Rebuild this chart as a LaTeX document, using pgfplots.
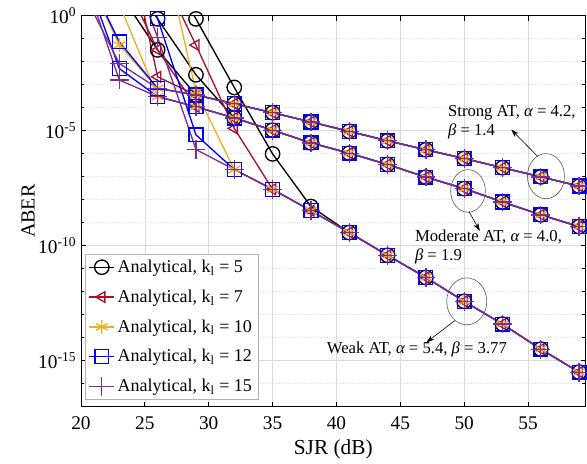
\documentclass[border=0pt]{standalone}
\usepackage{fontspec}
\setmainfont{Liberation Serif}
\usepackage{pgfplots}
\pgfplotsset{compat=1.18}
\usetikzlibrary{arrows.meta}
\definecolor{c5}{RGB}{0,0,0}
\definecolor{c7}{RGB}{162,20,47}
\definecolor{c10}{RGB}{237,177,32}
\definecolor{c12}{RGB}{0,0,255}
\definecolor{c15}{RGB}{126,47,142}
\pgfplotsset{
  k5/.style={c5, line width=1pt, mark=o, mark size=5.4pt, mark options={solid, line width=1pt}},
  k7/.style={c7, line width=1pt, mark=triangle, mark size=4.6pt, mark options={solid, rotate=90, line width=1pt}},
  k10/.style={c10, line width=1pt, mark=asterisk, mark size=5pt, mark options={solid, line width=1pt}},
  k12/.style={c12, line width=1pt, mark=square, mark size=5.2pt, mark options={solid, line width=1pt}},
  k15/.style={c15, line width=1pt, mark=+, mark size=7pt, mark options={solid, line width=1pt}},
  dat/.style={forget plot, mark indices={1,2,...,20}},
}
\begin{document}
\begin{tikzpicture}
\begin{axis}[
  scale only axis, width=378.4pt, height=293.25pt,
  xmin=20, xmax=59.5, ymode=log, ymin=1e-17, ymax=1,
  xtick={20,25,...,55},
  ytick={1e-15,1e-10,1e-5,1},
  yticklabels={10\textsuperscript{-15},10\textsuperscript{-10},10\textsuperscript{-5},10\textsuperscript{0}},
  minor ytick={1e-17,1e-16,1e-14,1e-13,1e-12,1e-11,1e-9,1e-8,1e-7,1e-6,1e-4,1e-3,1e-2,1e-1},
  xmajorgrids, ymajorgrids, yminorgrids,
  major grid style={gray!30, line width=0.5pt},
  minor grid style={gray!30, dotted, line width=0.5pt},
  axis line style={line width=0.6pt},
  major tick length=3.75pt, minor tick length=2.5pt,
  every tick/.style={black, line width=0.6pt},
  /pgf/number format/assume math mode=true,
  ticklabel style={font=\fontsize{14.5}{17}\selectfont},
  xticklabel style={yshift=-4pt},
  xlabel={SJR (dB)}, ylabel={ABER},
  x label style={font=\fontsize{16}{18}\selectfont, at={(axis description cs:0.5,-0.108)}, anchor=center},
  y label style={font=\fontsize{15}{18}\selectfont, at={(axis description cs:-0.105,0.5)}, anchor=center},
  legend style={at={(0.008,0.017)}, anchor=south west, draw=gray!60, fill=white,
    font=\fontsize{13.5}{15}\selectfont, row sep=7.5pt, inner sep=2.5pt},
  legend cell align=left,
  legend image code/.code={\draw[mark repeat=2,mark phase=2] plot coordinates {(0cm,0cm) (0.33cm,0cm) (0.66cm,0cm)};},
]
\addlegendimage{k5}\addlegendentry{Analytical, k\textsubscript{l} = 5}
\addlegendimage{k7}\addlegendentry{Analytical, k\textsubscript{l} = 7}
\addlegendimage{k10}\addlegendentry{Analytical, k\textsubscript{l} = 10}
\addlegendimage{k12}\addlegendentry{Analytical, k\textsubscript{l} = 12}
\addlegendimage{k15}\addlegendentry{Analytical, k\textsubscript{l} = 15}

% ---- k_l = 5
\addplot[k5,dat] table[row sep=\\, x=x, y expr=10^(\thisrow{l})] {x l\\ 23 1.0\\ 26 -1.49\\ 29 -3.45\\ 32 -3.83\\ 35 -4.22\\ 38 -4.62\\ 41 -5.03\\ 44 -5.44\\ 47 -5.83\\ 50 -6.21\\ 53 -6.61\\ 56 -7.01\\ 59 -7.41\\};
\addplot[k5,dat] table[row sep=\\, x=x, y expr=10^(\thisrow{l})] {x l\\ 23 2.5\\ 26 -0.14\\ 29 -2.57\\ 32 -4.45\\ 35 -4.98\\ 38 -5.53\\ 41 -5.98\\ 44 -6.47\\ 47 -7.02\\ 50 -7.52\\ 53 -8.10\\ 56 -8.66\\ 59 -9.17\\};
\addplot[k5,dat] table[row sep=\\, x=x, y expr=10^(\thisrow{l})] {x l\\ 26 2.8\\ 29 -0.14\\ 32 -3.12\\ 35 -6.01\\ 38 -8.30\\ 41 -9.43\\ 44 -10.42\\ 47 -11.38\\ 50 -12.42\\ 53 -13.41\\ 56 -14.50\\ 59 -15.50\\};
% ---- k_l = 7
\addplot[k7,dat] table[row sep=\\, x=x, y expr=10^(\thisrow{l})] {x l\\ 23 5.0\\ 26 -2.66\\ 29 -3.45\\ 32 -3.83\\ 35 -4.22\\ 38 -4.62\\ 41 -5.03\\ 44 -5.44\\ 47 -5.83\\ 50 -6.21\\ 53 -6.61\\ 56 -7.01\\ 59 -7.41\\};
\addplot[k7,dat] table[row sep=\\, x=x, y expr=10^(\thisrow{l})] {x l\\ 23 2.0\\ 26 -1.49\\ 29 -3.96\\ 32 -4.45\\ 35 -4.98\\ 38 -5.53\\ 41 -5.98\\ 44 -6.47\\ 47 -7.02\\ 50 -7.52\\ 53 -8.10\\ 56 -8.66\\ 59 -9.17\\};
\addplot[k7,dat] table[row sep=\\, x=x, y expr=10^(\thisrow{l})] {x l\\ 26 2.2\\ 29 -1.28\\ 32 -4.90\\ 35 -7.55\\ 38 -8.48\\ 41 -9.43\\ 44 -10.42\\ 47 -11.38\\ 50 -12.42\\ 53 -13.41\\ 56 -14.50\\ 59 -15.50\\};
% ---- k_l = 10
\addplot[k10,dat] table[row sep=\\, x=x, y expr=10^(\thisrow{l})] {x l\\ 20 2.3\\ 23 -1.28\\ 26 -3.16\\ 29 -3.45\\ 32 -3.83\\ 35 -4.22\\ 38 -4.62\\ 41 -5.03\\ 44 -5.44\\ 47 -5.83\\ 50 -6.21\\ 53 -6.61\\ 56 -7.01\\ 59 -7.41\\};
\addplot[k10,dat] table[row sep=\\, x=x, y expr=10^(\thisrow{l})] {x l\\ 23 0.5\\ 26 -3.52\\ 29 -3.96\\ 32 -4.45\\ 35 -4.98\\ 38 -5.53\\ 41 -5.98\\ 44 -6.47\\ 47 -7.02\\ 50 -7.52\\ 53 -8.10\\ 56 -8.66\\ 59 -9.17\\};
\addplot[k10,dat] table[row sep=\\, x=x, y expr=10^(\thisrow{l})] {x l\\ 26 4.0\\ 29 -3.30\\ 32 -6.69\\ 35 -7.55\\ 38 -8.48\\ 41 -9.43\\ 44 -10.42\\ 47 -11.38\\ 50 -12.42\\ 53 -13.41\\ 56 -14.50\\ 59 -15.50\\};
% ---- k_l = 12
\addplot[k12,dat] table[row sep=\\, x=x, y expr=10^(\thisrow{l})] {x l\\ 20 2.3\\ 23 -1.14\\ 26 -3.16\\ 29 -3.45\\ 32 -3.83\\ 35 -4.22\\ 38 -4.62\\ 41 -5.03\\ 44 -5.44\\ 47 -5.83\\ 50 -6.21\\ 53 -6.61\\ 56 -7.01\\ 59 -7.41\\};
\addplot[k12,dat] table[row sep=\\, x=x, y expr=10^(\thisrow{l})] {x l\\ 20 2.3\\ 23 -2.30\\ 26 -3.52\\ 29 -3.96\\ 32 -4.45\\ 35 -4.98\\ 38 -5.53\\ 41 -5.98\\ 44 -6.47\\ 47 -7.02\\ 50 -7.52\\ 53 -8.10\\ 56 -8.66\\ 59 -9.17\\};
\addplot[k12,dat] table[row sep=\\, x=x, y expr=10^(\thisrow{l})] {x l\\ 23 4.5\\ 26 -0.13\\ 29 -5.18\\ 32 -6.69\\ 35 -7.55\\ 38 -8.48\\ 41 -9.43\\ 44 -10.42\\ 47 -11.38\\ 50 -12.42\\ 53 -13.41\\ 56 -14.50\\ 59 -15.50\\};
% ---- k_l = 15
\addplot[k15,dat] table[row sep=\\, x=x, y expr=10^(\thisrow{l})] {x l\\ 20 1.2\\ 23 -2.08\\ 26 -3.16\\ 29 -3.45\\ 32 -3.83\\ 35 -4.22\\ 38 -4.62\\ 41 -5.03\\ 44 -5.44\\ 47 -5.83\\ 50 -6.21\\ 53 -6.61\\ 56 -7.01\\ 59 -7.41\\};
\addplot[k15,dat] table[row sep=\\, x=x, y expr=10^(\thisrow{l})] {x l\\ 20 2.1\\ 23 -2.80\\ 26 -3.52\\ 29 -3.96\\ 32 -4.45\\ 35 -4.98\\ 38 -5.53\\ 41 -5.98\\ 44 -6.47\\ 47 -7.02\\ 50 -7.52\\ 53 -8.10\\ 56 -8.66\\ 59 -9.17\\};
\addplot[k15,dat] table[row sep=\\, x=x, y expr=10^(\thisrow{l})] {x l\\ 23 3.5\\ 26 -0.95\\ 29 -5.82\\ 32 -6.69\\ 35 -7.55\\ 38 -8.48\\ 41 -9.43\\ 44 -10.42\\ 47 -11.38\\ 50 -12.42\\ 53 -13.41\\ 56 -14.50\\ 59 -15.50\\};

% ---- annotations
\draw[gray!70!black, line width=0.45pt] (axis cs:56.4,1.05e-7) ellipse [x radius=13.9pt, y radius=16.9pt];
\draw[gray!70!black, line width=0.45pt] (axis cs:50.3,2.4e-8) ellipse [x radius=13pt, y radius=16pt];
\draw[gray!70!black, line width=0.45pt] (axis cs:50.2,3.8e-13) ellipse [x radius=15pt, y radius=17.6pt];
\draw[black, line width=0.45pt, -{Stealth[length=6pt,width=4pt]}] (axis cs:55.76,7.5e-7) -- (axis cs:53.69,1.11e-5);
\draw[black, line width=0.45pt, -{Stealth[length=6pt,width=4pt]}] (axis cs:50.36,3.16e-9) -- (axis cs:51.22,4.4e-10);
\draw[black, line width=0.45pt, -{Stealth[length=6pt,width=4pt]}] (axis cs:49.26,5.5e-14) -- (axis cs:47.05,6.3e-15);
\node[anchor=west, align=left, inner sep=0pt, font=\fontsize{12.5}{14.3}\selectfont] at (axis cs:48.72,2.34e-5) {Strong AT, {\itshape α} = 4.2,\\{\itshape β} = 1.4};
\node[anchor=west, align=left, inner sep=0pt, font=\fontsize{12.5}{14.3}\selectfont] at (axis cs:46.13,8.9e-11) {Moderate AT, {\itshape α} = 4.0,\\{\itshape β} = 1.9};
\node[anchor=west, inner sep=0pt, font=\fontsize{12.5}{14.3}\selectfont] at (axis cs:39.23,3.24e-15) {Weak AT, {\itshape α} = 5.4, {\itshape β} = 3.77};
\end{axis}
\pgfresetboundingbox
\useasboundingbox (-60.75pt,-43pt) rectangle (379.5pt,305pt);
\end{tikzpicture}
\end{document}
